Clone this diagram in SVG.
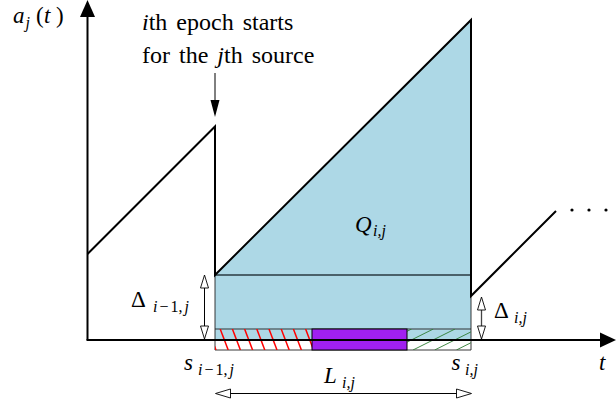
<svg xmlns="http://www.w3.org/2000/svg" width="616" height="406" viewBox="0 0 616 406" font-family="Liberation Serif">
<defs>
<clipPath id="clipRed"><rect x="215" y="329" width="97" height="21"/></clipPath>
<clipPath id="clipGreen"><rect x="407" y="329" width="64" height="21"/></clipPath>
</defs>

<g id="epoch-region">
<path d="M215,275 L471,20 L471,340 L215,340 Z" fill="#ADD8E6"/>
<rect x="215" y="340" width="97" height="10" fill="#fff"/>
<rect x="407" y="340" width="64" height="10" fill="#fff"/>
<line x1="215" y1="275" x2="471" y2="275" stroke="#2a3a40" stroke-width="1.3"/>
<g stroke="#222" stroke-width="0.9" fill="none">
<line x1="215" y1="329" x2="471" y2="329"/>
<line x1="215" y1="275" x2="215" y2="350"/>
<line x1="471" y1="275" x2="471" y2="350"/>
<line x1="215" y1="350" x2="471" y2="350"/>
</g>
</g>

<g id="hatch-red" clip-path="url(#clipRed)" stroke="#ff0000" stroke-width="1.5">
<line x1="196" y1="329" x2="204" y2="350"/>
<line x1="208" y1="329" x2="216" y2="350"/>
<line x1="220.2" y1="329" x2="228.2" y2="350"/>
<line x1="232.4" y1="329" x2="240.4" y2="350"/>
<line x1="244.6" y1="329" x2="252.6" y2="350"/>
<line x1="256.8" y1="329" x2="264.8" y2="350"/>
<line x1="269" y1="329" x2="277" y2="350"/>
<line x1="281.2" y1="329" x2="289.2" y2="350"/>
<line x1="293.4" y1="329" x2="301.4" y2="350"/>
<line x1="305.6" y1="329" x2="313.6" y2="350"/>
</g>

<g id="hatch-green" clip-path="url(#clipGreen)" stroke="#2e7d32" stroke-width="0.9">
<line x1="348" y1="350" x2="390" y2="329"/>
<line x1="369.6" y1="350" x2="411.6" y2="329"/>
<line x1="391.3" y1="350" x2="433.3" y2="329"/>
<line x1="413" y1="350" x2="455" y2="329"/>
<line x1="434.7" y1="350" x2="476.7" y2="329"/>
<line x1="456.4" y1="350" x2="498.4" y2="329"/>
</g>

<g id="service">
<rect x="312" y="329" width="95" height="21" fill="#A020F0" stroke="#000" stroke-width="1"/>
</g>

<g id="axes" stroke="#000" stroke-width="2">
<line x1="87.5" y1="340" x2="87.5" y2="15"/>
<polygon points="87.5,0 80,17 95,17" fill="#000" stroke="none"/>
<line x1="86.5" y1="340" x2="601" y2="340"/>
<polygon points="616,340 600,332.5 600,347.5" fill="#000" stroke="none"/>
</g>

<g id="age-curve">
<path d="M87.5,254 L215,126.5 L215,275 L471,20 L471,296 L556,211" stroke="#000" stroke-width="2" fill="none" stroke-linejoin="miter"/>
<circle cx="572" cy="210" r="1.6" fill="#000"/>
<circle cx="589" cy="210" r="1.6" fill="#000"/>
<circle cx="606" cy="210" r="1.6" fill="#000"/>
</g>

<g id="connectors">
<line x1="215" y1="73" x2="215" y2="102" stroke="#000" stroke-width="1"/>
<polygon points="215,117 210.5,100 219.5,100" fill="#000"/>
<line x1="204.5" y1="286" x2="204.5" y2="328" stroke="#000" stroke-width="1"/>
<line x1="481.5" y1="308" x2="481.5" y2="328" stroke="#444" stroke-width="1.3"/>
<line x1="228" y1="393.5" x2="459" y2="393.5" stroke="#000" stroke-width="1"/>
<g fill="#fff" stroke="#000" stroke-width="0.9">
<polygon points="204.5,275 200.5,288 208.5,288"/>
<polygon points="204.5,339 200.5,326 208.5,326"/>
<polygon points="481.5,297 477.5,310 485.5,310"/>
<polygon points="481.5,339 477.5,326 485.5,326"/>
<polygon points="215.5,393.5 230.5,389 230.5,398"/>
<polygon points="471.5,393.5 456.5,389 456.5,398"/>
</g>
</g>

<g id="labels" fill="#000">
<text font-family="Liberation Serif" font-size="23" font-style="italic" x="13" y="23">a</text>
<text font-family="Liberation Serif" font-size="16" font-style="italic" x="25.5" y="28">j</text>
<text font-family="Liberation Serif" font-size="23" x="36" y="23">(</text>
<text font-family="Liberation Serif" font-size="23" font-style="italic" x="44" y="23">t</text>
<text font-family="Liberation Serif" font-size="23" x="56" y="23">)</text>

<text font-family="Liberation Serif" font-size="24" x="142" y="30" word-spacing="3"><tspan font-style="italic">i</tspan>th epoch starts</text>
<text font-family="Liberation Serif" font-size="24" x="142" y="63" word-spacing="3">for the <tspan font-style="italic">j</tspan>th source</text>

<text font-family="Liberation Serif" font-size="23" font-style="italic" x="355" y="232">Q</text>
<text font-family="Liberation Serif" font-size="16" font-style="italic" x="373" y="236">i,j</text>

<text font-family="Liberation Serif" font-size="23" x="131" y="307">Δ</text>
<text font-family="Liberation Serif" font-size="16" x="153" y="312"><tspan font-style="italic">i</tspan><tspan dx="2">−</tspan><tspan dx="2">1,</tspan><tspan dx="2" font-style="italic">j</tspan></text>

<text font-family="Liberation Serif" font-size="23" x="494" y="318">Δ</text>
<text font-family="Liberation Serif" font-size="16" font-style="italic" x="514" y="323">i,j</text>

<text font-family="Liberation Serif" font-size="23" font-style="italic" x="184" y="370">s</text>
<text font-family="Liberation Serif" font-size="16" x="198" y="375"><tspan font-style="italic">i</tspan><tspan dx="2">−</tspan><tspan dx="2">1,</tspan><tspan dx="2" font-style="italic">j</tspan></text>

<text font-family="Liberation Serif" font-size="23" font-style="italic" x="451.5" y="370">s</text>
<text font-family="Liberation Serif" font-size="16" font-style="italic" x="465" y="375">i,j</text>

<text font-family="Liberation Serif" font-size="23" font-style="italic" x="324" y="383">L</text>
<text font-family="Liberation Serif" font-size="16" font-style="italic" x="342" y="388">i,j</text>

<text font-family="Liberation Serif" font-size="23" font-style="italic" x="599" y="370">t</text>
</g>
</svg>
